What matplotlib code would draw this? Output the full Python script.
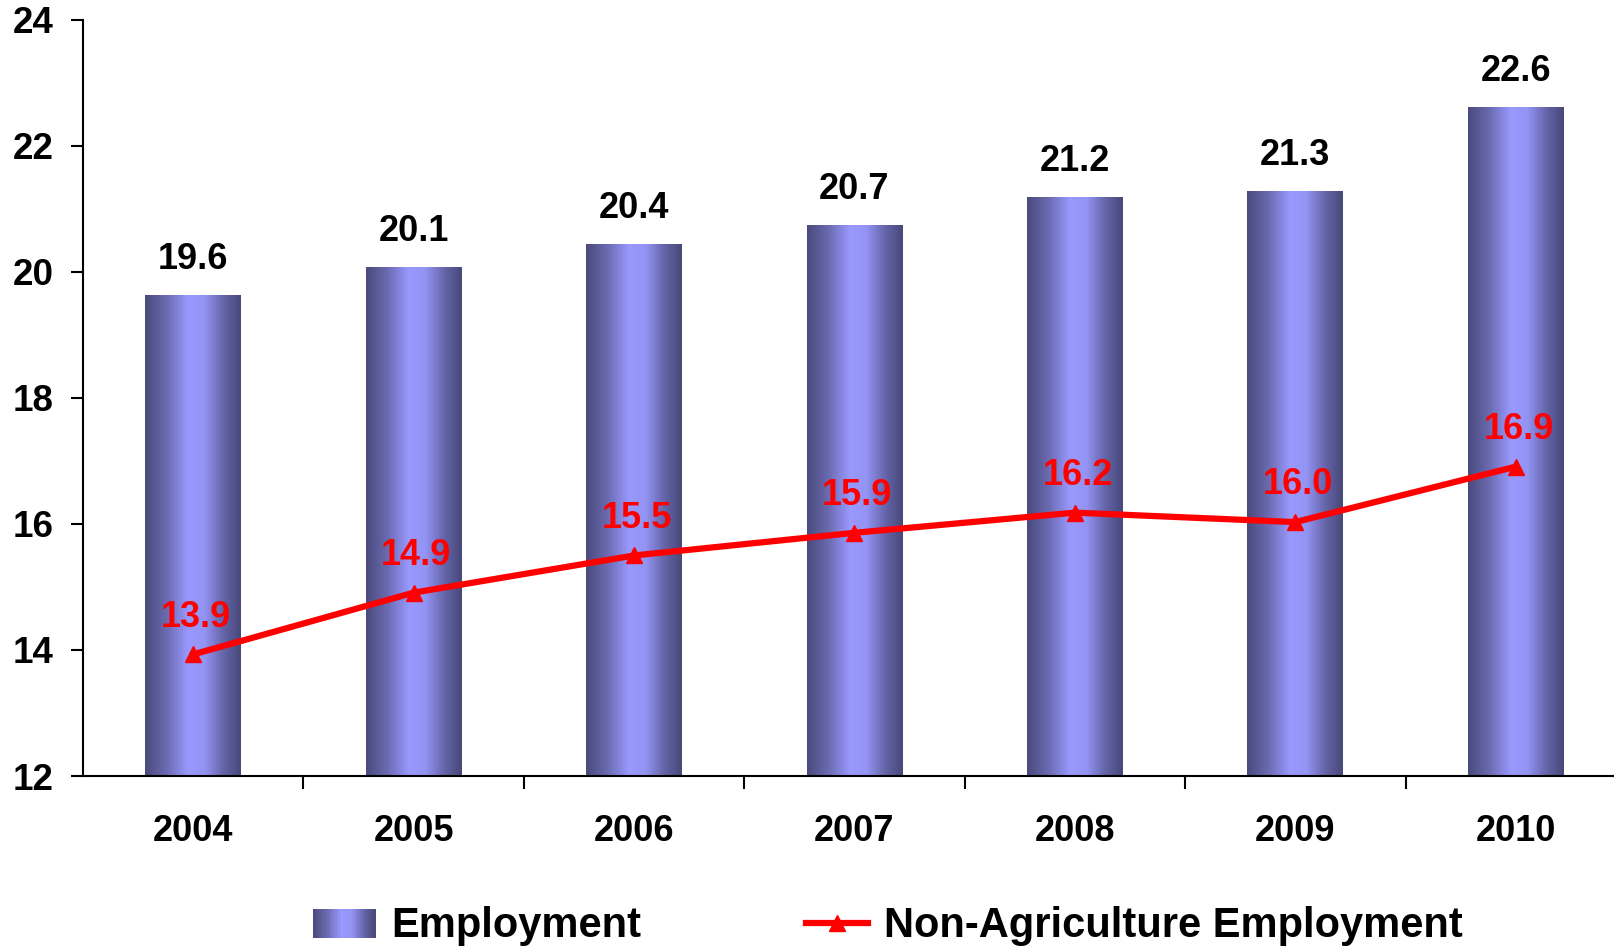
import matplotlib
matplotlib.use("Agg")
import matplotlib.pyplot as plt
import numpy as np
from matplotlib.colors import LinearSegmentedColormap
from matplotlib.patches import Rectangle
from matplotlib.lines import Line2D
from matplotlib.legend_handler import HandlerBase

plt.rcParams['font.family'] = ['Liberation Sans', 'DejaVu Sans']
plt.rcParams['font.weight'] = 'bold'

years = ['2004', '2005', '2006', '2007', '2008', '2009', '2010']
employment = [19.63, 20.07, 20.43, 20.74, 21.18, 21.28, 22.61]
non_agri = [13.93, 14.91, 15.50, 15.86, 16.18, 16.03, 16.91]

# gradiente horizontal de las barras (bordes oscuros, centro claro)
grad = LinearSegmentedColormap.from_list(
    'barra', [(0.0, '#4a4a7c'), (0.22, '#6a6ab0'), (0.45, '#9999ff'),
              (0.62, '#9494f4'), (0.82, '#6464a8'), (1.0, '#48487a')])


class HandlerGradiente(HandlerBase):
    def create_artists(self, legend, orig, xd, yd, w, h, fontsize, trans):
        n = 40
        arts = []
        for i in range(n):
            r = Rectangle((xd + w * i / n, yd - h * 0.02), w / n * 1.05, h * 1.0,
                          facecolor=grad((i + 0.5) / n), edgecolor='none',
                          transform=trans)
            arts.append(r)
        return arts


fig = plt.figure(figsize=(16.14, 9.46), dpi=100)
ax = fig.add_axes([0.0514, 0.1797, 0.956, 0.7992])

x = np.arange(len(years))
ancho = 0.435
ymin = 12
barras = ax.bar(x, np.array(employment) - ymin, bottom=ymin, width=ancho,
                color='none', edgecolor='none', zorder=2)
img = np.linspace(0, 1, 256).reshape(1, -1)
for b in barras:
    x0, y0 = b.get_x(), b.get_y()
    ax.imshow(img, cmap=grad, aspect='auto', zorder=2,
              extent=[x0, x0 + b.get_width(), y0, y0 + b.get_height()])

for xi, v in zip(x, employment):
    ax.annotate(f'{v:.1f}', (xi, v), xytext=(0, 19), textcoords='offset points',
                ha='center', va='baseline', fontsize=26, fontweight='bold',
                color='black', zorder=5)

ax.plot(x, non_agri, color='#ff0000', linewidth=4.5, marker='^',
        markersize=11, zorder=4, clip_on=False)
for xi, v in zip(x, non_agri):
    ax.annotate(f'{v:.1f}', (xi, v), xytext=(2, 20), textcoords='offset points',
                ha='center', va='baseline', fontsize=26, fontweight='bold',
                color='#ff0000', zorder=5)

ax.set_xlim(-0.5, len(years) - 0.5)
ax.set_ylim(12, 24)
ax.set_yticks(np.arange(12, 25, 2))
ax.tick_params(axis='y', labelsize=26.5, length=9, width=1.5, pad=12)
ax.set_xticks(np.arange(0.5, len(years) - 0.5, 1))
ax.set_xticklabels([])
ax.tick_params(axis='x', which='major', length=9, width=1.5)
ax.set_xticks(x, minor=True)
ax.set_xticklabels(years, minor=True)
ax.tick_params(axis='x', which='minor', length=0, labelsize=26, pad=27)
for s in ['top', 'right']:
    ax.spines[s].set_visible(False)
for s in ['left', 'bottom']:
    ax.spines[s].set_linewidth(1.5)

h_emp = Rectangle((0, 0), 1, 1)
h_non = Line2D([], [], color='#ff0000', linewidth=4.5, marker='^', markersize=11)
fig.legend([h_emp, h_non], ['Employment', 'Non-Agriculture Employment'],
           handler_map={h_emp: HandlerGradiente()},
           loc='center', bbox_to_anchor=(0.550, 0.021), ncol=2, frameon=False,
           fontsize=30, handlelength=1.5, handletextpad=0.37,
           columnspacing=3.95)

fig.savefig('out.png', dpi=100)
